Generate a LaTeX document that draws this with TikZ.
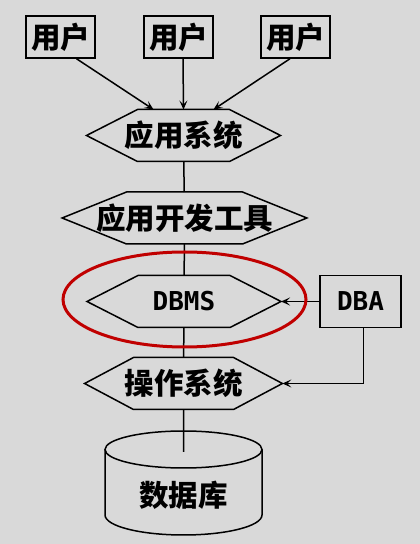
\documentclass[tikz,border=0pt]{standalone}
\usepackage{fontspec}
\newfontfamily\cjk{Noto Sans CJK SC}
\newfontfamily\monofont{DejaVu Sans Mono}
\usetikzlibrary{shapes.symbols,arrows.meta}
\definecolor{bg}{RGB}{217,217,217}
\definecolor{ringred}{RGB}{192,0,0}
\tikzset{every node/.style={align=center}, >={Stealth[length=9pt,width=8pt,inset=4pt]}, font=\cjk\bfseries\fontsize{29.5}{31}\selectfont,
  userbox/.style={draw, minimum width=69pt, minimum height=42pt, inner sep=0pt},
  layer/.style={signal, signal to=west and east, draw, inner ysep=0pt, outer sep=0pt, minimum height=52pt},
  latin/.style={font=\monofont\bfseries\fontsize{26}{28}\selectfont}}

\begin{document}
\begin{tikzpicture}[x=1pt, y=1pt, line width=1.5pt]
            \fill[bg] (0,0) rectangle (420,544);
            \useasboundingbox (0,0) rectangle (420,544);
            \node [userbox] (u1) at (60.5,507) {用户};
            \node [userbox] (u2) at (178.5,507) {用户};
            \node [userbox] (u3) at (295.5,507) {用户};
            \node [layer, inner xsep=-13pt, signal pointer angle=54] (sys) at (183.5,408.5) {应用系统};
            \node [layer, inner xsep=-30.5pt, signal pointer angle=44] (dev) at (184.5,326) {应用开发工具};
            \node [layer, inner xsep=14.7pt, signal pointer angle=54, latin] (dbms) at (184,242.5) {DBMS};
            \node [layer, inner xsep=-9pt, signal pointer angle=56] (os) at (183.5,160.5) {操作系统};
            \node [userbox, minimum width=81pt, minimum height=52pt, latin] (dba) at (360.5,242.5) {DBA};
            \node (db) at (183.5,49) {数据库};
            \coordinate (dbtop) at (183.5,92);
            % cylinder
            \draw (105,94.5) -- (105,29) arc [start angle=180, end angle=360, x radius=78.5, y radius=20] -- (262,94.5);
            \draw (183.5,94.5) ellipse [x radius=78.5, y radius=18.5];
            \path[->] ([xshift=16pt]u1.south) edge ([xshift=-30pt]sys.north)
                ([xshift=4.5pt]u2.south) edge (sys.north)
                ([xshift=-5.5pt]u3.south) edge ([xshift=30pt]sys.north);
            \draw (sys) -- (dev) (dev) -- (dbms) (dbms) -- (os) (os) -- (dbtop);
            \draw[->] (dba) -- (dbms.east);
            \draw[->] ([xshift=3pt]dba.south) |- (os.east);
            \draw[ringred, line width=3pt] (184.5,244.5) ellipse [x radius=121.5, y radius=47.5];
        \end{tikzpicture}
\end{document}
